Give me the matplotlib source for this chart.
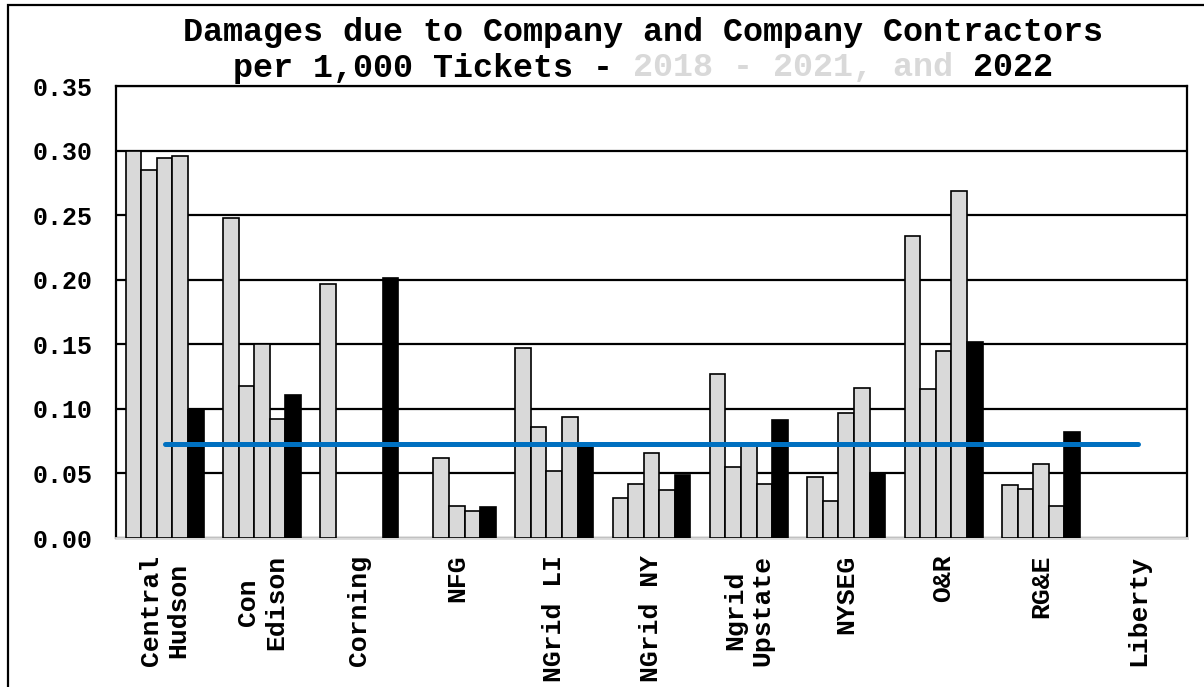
import matplotlib
matplotlib.use('Agg')
import matplotlib.pyplot as plt
import numpy as np
from matplotlib.patches import Rectangle
from matplotlib.ticker import FormatStrFormatter

# --------------------------------------------------------------------------------------------------
# Data
companies = ['Central\nHudson', 'Con\nEdison', 'Corning', 'NFG', 'NGrid LI', 'NGrid NY',
             'Ngrid\nUpstate', 'NYSEG', 'O&R', 'RG&E', 'Liberty']

y2018 = [0.300, 0.248, 0.197, 0.000, 0.147, 0.031, 0.127, 0.047, 0.234, 0.041, 0.0]
y2019 = [0.285, 0.118, 0.000, 0.062, 0.086, 0.042, 0.055, 0.029, 0.115, 0.038, 0.0]
y2020 = [0.294, 0.150, 0.000, 0.025, 0.052, 0.066, 0.071, 0.097, 0.145, 0.057, 0.0]
y2021 = [0.296, 0.092, 0.000, 0.021, 0.094, 0.037, 0.042, 0.116, 0.269, 0.025, 0.0]
y2022 = [0.099, 0.111, 0.201, 0.024, 0.071, 0.049, 0.091, 0.050, 0.152, 0.082, 0.0]

average = [0.073] * len(companies)

yticks = [0.00, 0.05, 0.10, 0.15, 0.20, 0.25, 0.30, 0.35]

# --------------------------------------------------------------------------------------------------
font = 'Liberation Mono'
grey = '#d9d9d9'
W, H = 1204, 687

fig = plt.figure(figsize=(W / 100, H / 100), dpi=100)
ax = fig.add_axes([116 / W, 1 - 538 / H, (1187 - 116) / W, (538 - 86) / H])

x = np.arange(len(companies))
width = 0.16
series = [y2018, y2019, y2020, y2021]
for i, vals in enumerate(series):
    vals = np.array(vals)
    ax.bar(x + (i - 2) * width, vals, width, color=grey, edgecolor='black',
           linewidth=np.where(vals > 0, 1.2, 0), zorder=3)
vals = np.array(y2022)
ax.bar(x + 2 * width, vals, width, color='black', edgecolor='black',
       linewidth=np.where(vals > 0, 1.2, 0), zorder=3)

ax.plot(x, average, color='#0070c0', linewidth=3.6, solid_capstyle='round', zorder=4)

ax.set_xlim(-0.5, len(companies) - 0.5)
ax.set_ylim(0, 0.35)
ax.set_yticks(yticks)
ax.yaxis.set_major_formatter(FormatStrFormatter('%.2f'))
ax.grid(axis='y', color='black', linewidth=1.6)
ax.set_axisbelow(True)

ax.set_xticks(x)
ax.set_xticklabels(companies, rotation=90, ha='center', va='top', multialignment='center',
                   fontsize=19, fontfamily=font, fontweight='bold')
for lab in ax.get_yticklabels():
    lab.set_fontfamily(font)
    lab.set_fontweight('bold')
    lab.set_fontsize(18)
ax.tick_params(axis='both', length=0)
ax.tick_params(axis='y', pad=17)
ax.tick_params(axis='x', pad=12)

for side in ['left', 'right', 'top']:
    ax.spines[side].set_color('black')
    ax.spines[side].set_linewidth(1.6)
ax.spines['bottom'].set_color(grey)
ax.spines['bottom'].set_linewidth(2)

# Title, first line
fig.text(643 / W, 1 - 32 / H, 'Damages due to Company and Company Contractors',
         ha='center', va='center', fontsize=24, fontfamily=font, fontweight='bold')

# Title, second line in pieces (monospace font, so offsets are in characters)
pieces = [('per 1,000 Tickets - ', 'black'), ('2018 - 2021, and ', grey), ('2022', 'black')]
char_w = 0.6 * 24 * 100 / 72
nchar = sum(len(p) for p, c in pieces)
x0 = 643 - nchar * char_w / 2
for p, c in pieces:
    fig.text(x0 / W, 1 - 68 / H, p, ha='left', va='center', fontsize=24,
             fontfamily=font, fontweight='bold', color=c)
    x0 += len(p) * char_w

# Outer frame
fig.patches.append(Rectangle((8 / W, -0.1), 1.2, 1 - 5 / H + 0.1, transform=fig.transFigure,
                             fill=False, edgecolor='black', linewidth=1.6))

fig.savefig('out.png', dpi=100)
